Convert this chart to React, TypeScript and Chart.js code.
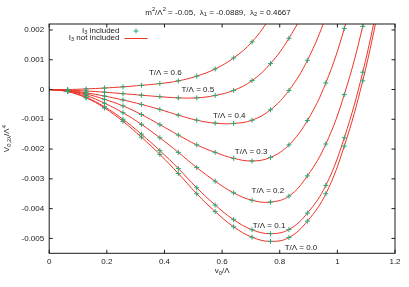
import React, { useEffect, useRef } from "react";
import { Chart, registerables } from "chart.js";

Chart.register(...registerables);

// ---------- data ----------
const vValues = [0, 0.064, 0.128, 0.192, 0.256, 0.32, 0.384, 0.448, 0.512, 0.576, 0.64, 0.704, 0.768, 0.832, 0.896, 0.96, 1.024, 1.088, 1.152];

const T00 = [0, -0.00007, -0.00028, -0.00062, -0.00107, -0.0016, -0.00218, -0.00282, -0.0035, -0.0041, -0.00461, -0.00496, -0.0051, -0.00497, -0.00442, -0.0035, -0.0019, 0.00029, 0.0031];
const T01 = [0, -0.000065, -0.00026, -0.00058, -0.001, -0.0015, -0.00205, -0.00265, -0.0033, -0.00388, -0.00437, -0.00471, -0.00484, -0.0047, -0.00415, -0.00322, -0.00162, 0.00058, 0.0034];
const T02 = [0, -0.00005, -0.0002, -0.00046, -0.00078, -0.00117, -0.00162, -0.00211, -0.00262, -0.00308, -0.00347, -0.00372, -0.00378, -0.00358, -0.0029, -0.00183, -0.00017, 0.00212, 0.005];
const T03 = [0, -0.00004, -0.00015, -0.00033, -0.00055, -0.00084, -0.00118, -0.00153, -0.00186, -0.00211, -0.00231, -0.0024, -0.00228, -0.00186, -0.00104, 0.00022, 0.00205, 0.0045];
const T04 = [0, -0.00003, -0.00011, -0.00022, -0.00035, -0.0005, -0.00067, -0.00086, -0.00103, -0.00113, -0.00114, -0.00103, -0.00068, -0.00003, 0.00098, 0.00245, 0.0044];
const T05 = [0, -0.00002, -0.00005, -0.00009, -0.00014, -0.00019, -0.00024, -0.00028, -0.00028, -0.0002, -0.00003, 0.0003, 0.00087, 0.00172, 0.0029, 0.0045];
const T06 = [0, 0, 0.00002, 0.00005, 0.00009, 0.00014, 0.0002, 0.00029, 0.00045, 0.00069, 0.00106, 0.0016, 0.00245, 0.0036];

const seriesList = [T00, T01, T02, T03, T04, T05, T06];
const curveLabels = ["T/Λ = 0.0", "T/Λ = 0.1", "T/Λ = 0.2", "T/Λ = 0.3", "T/Λ = 0.4", "T/Λ = 0.5", "T/Λ = 0.6"];
// label anchor (left edge, vertical middle) in data coordinates
const labelX = [0.817, 0.706, 0.702, 0.644, 0.568, 0.459, 0.346];
const labelY = [-0.0053, -0.00459, -0.0034, -0.00209, -0.00089, -0.00002, 0.00056];

const xTicks = [0, 0.2, 0.4, 0.6, 0.8, 1, 1.2];
const xTickLabels = ["0", "0.2", "0.4", "0.6", "0.8", "1", "1.2"];
const yTicks = [0.002, 0.001, 0, -0.001, -0.002, -0.003, -0.004, -0.005];
const yTickLabels = ["0.002", "0.001", "0", "-0.001", "-0.002", "-0.003", "-0.004", "-0.005"];

// ---------- style ----------
const FONT = "'Liberation Sans', Arial, Helvetica, sans-serif";
const LINE = "rgb(236,52,40)";
const MARK = "rgb(40,168,118)";
const TEXT = "#1a1a1a";

type Seg = [string, number]; // 0 normal, 1 sub, 2 sup

function richWidth(ctx: CanvasRenderingContext2D, segs: Seg[], size: number) {
  let w = 0;
  for (const [t, m] of segs) {
    ctx.font = `${m === 0 ? size : size * 0.72}px ${FONT}`;
    w += ctx.measureText(t).width;
  }
  return w;
}

function drawRich(ctx: CanvasRenderingContext2D, segs: Seg[], x: number, y: number, align: "left" | "center" | "right", size: number) {
  const w = richWidth(ctx, segs, size);
  let cx = align === "left" ? x : align === "center" ? x - w / 2 : x - w;
  ctx.textAlign = "left";
  ctx.textBaseline = "middle";
  for (const [t, m] of segs) {
    const s = m === 0 ? size : size * 0.72;
    ctx.font = `${s}px ${FONT}`;
    const dy = m === 1 ? size * 0.3 : m === 2 ? -size * 0.38 : 0;
    ctx.fillText(t, cx, y + dy);
    cx += ctx.measureText(t).width;
  }
}

const overlay = {
  id: "overlay",
  afterDraw(chart: any) {
    const { ctx, chartArea: a, scales } = chart;
    const xs = scales.x;
    const ys = scales.y;
    ctx.save();
    ctx.strokeStyle = "#1a1a1a";
    ctx.lineWidth = 1;
    ctx.strokeRect(a.left, a.top, a.right - a.left, a.bottom - a.top);
    const tl = 3.5;
    ctx.beginPath();
    for (const v of xTicks) {
      const px = xs.getPixelForValue(v);
      ctx.moveTo(px, a.bottom);
      ctx.lineTo(px, a.bottom - tl);
      ctx.moveTo(px, a.top);
      ctx.lineTo(px, a.top + tl);
    }
    for (const v of yTicks) {
      const py = ys.getPixelForValue(v);
      ctx.moveTo(a.left, py);
      ctx.lineTo(a.left + tl, py);
      ctx.moveTo(a.right, py);
      ctx.lineTo(a.right - tl, py);
    }
    ctx.stroke();

    ctx.fillStyle = TEXT;
    // title
    drawRich(ctx, [["m", 0], ["2", 2], ["/Λ", 0], ["2", 2], [" = -0.05,  λ", 0], ["1", 1], [" = -0.0889,  λ", 0], ["2", 1], [" = 0.4667", 0]], 218, 12.5, "center", 8);
    // x label
    drawRich(ctx, [["v", 0], ["0", 1], ["/Λ", 0]], (a.left + a.right) / 2, 271, "center", 8);
    // y label
    ctx.save();
    ctx.translate(7, (a.top + a.bottom) / 2);
    ctx.rotate(-Math.PI / 2);
    drawRich(ctx, [["V", 0], ["0,2λ", 1], ["/Λ", 0], ["4", 2]], 0, 0, "center", 8);
    ctx.restore();

    // curve labels
    for (let i = 0; i < curveLabels.length; i++) {
      ctx.font = `8px ${FONT}`;
      ctx.textAlign = "left";
      ctx.textBaseline = "middle";
      ctx.fillText(curveLabels[i], xs.getPixelForValue(labelX[i]), ys.getPixelForValue(labelY[i]));
    }

    // legend
    drawRich(ctx, [["I", 0], ["3", 1], [" included", 0]], 119.5, 30.5, "right", 8);
    drawRich(ctx, [["I", 0], ["3", 1], [" not included", 0]], 119.5, 37.5, "right", 8);
    ctx.strokeStyle = MARK;
    ctx.beginPath();
    ctx.moveTo(133.5, 31);
    ctx.lineTo(138.5, 31);
    ctx.moveTo(136, 28.5);
    ctx.lineTo(136, 33.5);
    ctx.stroke();
    ctx.strokeStyle = LINE;
    ctx.beginPath();
    ctx.moveTo(124.5, 38.5);
    ctx.lineTo(147.5, 38.5);
    ctx.stroke();
    ctx.restore();
  },
};

export default function App() {
  const ref = useRef<HTMLCanvasElement | null>(null);
  useEffect(() => {
    document.body.style.margin = "0";
    const canvas = ref.current;
    if (!canvas) return;
    const chart = new Chart(canvas, {
      type: "line",
      data: {
        datasets: seriesList.map((vals, i) => ({
          label: curveLabels[i],
          data: vals.map((v, k) => ({ x: vValues[k], y: v })),
          borderColor: LINE,
          borderWidth: 1,
          pointStyle: "cross",
          pointRadius: 2.5,
          pointHoverRadius: 2.5,
          pointBorderColor: MARK,
          pointBackgroundColor: MARK,
          pointBorderWidth: 1,
          tension: 0.4,
          fill: false,
        })),
      },
      options: {
        responsive: false,
        animation: false,
        devicePixelRatio: 1,
        events: [],
        layout: { padding: { left: 0, top: 24, right: 14, bottom: 0 } },
        plugins: { legend: { display: false }, tooltip: { enabled: false }, title: { display: false } },
        scales: {
          x: {
            type: "linear",
            min: 0,
            max: 1.2,
            grid: { display: false, drawTicks: false },
            border: { display: false },
            afterBuildTicks: (s: any) => {
              s.ticks = xTicks.map((v) => ({ value: v }));
            },
            afterFit: (s: any) => {
              s.height = 33.7;
            },
            ticks: {
              font: { family: FONT, size: 8 },
              color: TEXT,
              padding: 4,
              maxRotation: 0,
              autoSkip: false,
              callback: (_v: any, i: number) => xTickLabels[i],
            },
          },
          y: {
            type: "linear",
            min: -0.0055,
            max: 0.0022,
            grid: { display: false, drawTicks: false },
            border: { display: false },
            afterBuildTicks: (s: any) => {
              s.ticks = yTicks.map((v) => ({ value: v }));
            },
            afterFit: (s: any) => {
              s.width = 49.2;
            },
            ticks: {
              font: { family: FONT, size: 8 },
              color: TEXT,
              padding: 5,
              autoSkip: false,
              callback: (_v: any, i: number) => yTickLabels[i],
            },
          },
        },
      },
      plugins: [overlay],
    } as any);
    return () => chart.destroy();
  }, []);
  return <canvas ref={ref} width={409} height={287} style={{ display: "block", width: 409, height: 287 }} />;
}
